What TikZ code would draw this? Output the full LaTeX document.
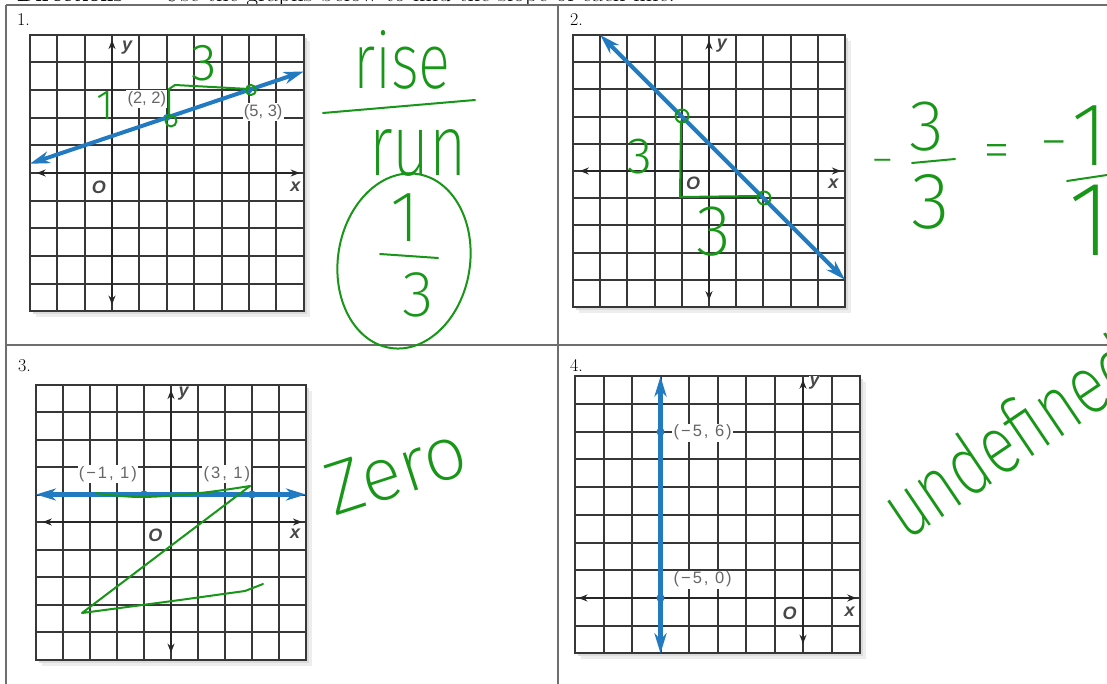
\documentclass[tikz,border=0pt]{standalone}
\usepackage{fontspec}
\usetikzlibrary{arrows.meta}
\newfontfamily\labfont[LetterSpace=12]{Liberation Sans}
\newfontfamily\labfonta{Liberation Sans}
\newfontfamily\axfont{Liberation Sans}
\newfontfamily\hand{Fira Sans ExtraLight}
\newfontfamily\handb{Fira Sans Light}
\newcommand{\fsz}[1]{\fontsize{#1}{#1}\selectfont}
\definecolor{penc}{RGB}{24,150,24}
\definecolor{lineblue}{RGB}{34,122,192}
\definecolor{gridc}{RGB}{55,55,55}
\definecolor{tablec}{RGB}{110,110,110}
\tikzset{
  gridl/.style={draw=gridc, line width=2pt},
  gridframe/.style={draw=gridc, line width=2pt},
  axisl/.style={draw=black!85, line width=2pt, {Stealth[length=9pt,width=7pt]}-{Stealth[length=9pt,width=7pt]}},
  bluel/.style={draw=lineblue, line width=#1, {Stealth[length=20pt,width=12pt,inset=6pt]}-{Stealth[length=20pt,width=12pt,inset=6pt]}},
  bluel/.default=4pt,
  bluedot/.style={fill=lineblue},
  axlab/.style={fill=white, inner sep=0.6pt, text=black!72, font=\axfont\bfseries\itshape\fsz{18}},
  plab/.style={fill=white, inner sep=1.2pt, text=black!60, font=\labfont\fsz{16.5}},
  plaba/.style={fill=white, inner sep=1.2pt, text=black!60, font=\labfonta\fsz{16.5}},
  numlab/.style={anchor=base west, inner sep=0pt, font=\fsz{18}},
  greenpen/.style={draw=penc, line width=2pt, line cap=round, line join=round},
  hw/.style={text=penc, inner sep=0pt, font=\hand},
  tablel/.style={draw=tablec, line width=1.5pt},
  shadowa/.style={fill=black!7},
  shadowb/.style={fill=black!14},
}
% graph paper snapped to whole pixels: left, top, cell w, cell h, columns, rows
\newcommand{\graphpaper}[6]{%
  \pgfmathsetmacro\gL{round(#1)}%
  \pgfmathsetmacro\gT{round(#2)}%
  \pgfmathsetmacro\gR{round(#1+#5*#3)}%
  \pgfmathsetmacro\gB{round(#2+#6*#4)}%
  \fill[shadowa] (\gL+6,\gT+6) rectangle (\gR+6,\gB+6);
  \fill[shadowb] (\gL+3,\gT+3) rectangle (\gR+3,\gB+3);
  \fill[white] (\gL,\gT) rectangle (\gR,\gB);
  \foreach \i in {0,...,#5} {\pgfmathsetmacro\gx{round(#1+\i*#3)}\draw[gridl] (\gx,\gT) -- (\gx,\gB);}
  \foreach \j in {0,...,#6} {\pgfmathsetmacro\gy{round(#2+\j*#4)}\draw[gridl] (\gL,\gy) -- (\gR,\gy);}
  \draw[gridframe] (\gL,\gT) rectangle (\gR,\gB);
}
\begin{document}
\begin{tikzpicture}[x=1pt,y=-1pt]
\useasboundingbox (0,0) rectangle (1107,684);
\clip (0,0) rectangle (1107,684);
\fill[white] (0,0) rectangle (1107,684);

% header text (mostly cut off at the top edge)
\node[anchor=base west, inner sep=0pt, font=\fsz{21}\bfseries] (dir) at (17,1.5) {Directions};
\node[anchor=base west, inner sep=0pt, font=\fsz{25}] (instr) at (163,1.5) {Use the graphs below to find the slope of each line.};

% table
\draw[tablel] (6,5) -- (1110,5);
\draw[tablel] (6,5) -- (6,690);
\draw[tablel] (558,5) -- (558,690);
\draw[tablel] (6,345) -- (1110,345);

\node[numlab] (n1) at (17,26) {1.};
\node[numlab] (n2) at (570,26) {2.};
\node[numlab] (n3) at (18,371) {3.};
\node[numlab] (n4) at (570,371) {4.};

% ---------- graph 1 ----------
\graphpaper{29.8}{34.5}{27.4}{27.7}{10}{10}
\begin{scope}[shift={(112,173)}, x=27.4pt, y=27.7pt]
  \draw[axisl] (-2.75,0) -- (6.85,0);
  \draw[axisl] (0,-4.75) -- (0,4.8);
  \node[axlab] (g1y) at (0.55,4.54) {y};
  \node[axlab] (g1x) at (6.69,-0.48) {x};
  \node[axlab] (g1o) at (-0.48,-0.52) {O};
  \node[plaba] (g1a) at (1.27,2.66) {(2, 2)};
  \node[plaba] (g1b) at (5.52,2.21) {(5, 3)};
  \coordinate (g1s) at (-3,1/3);
  \coordinate (g1e) at (7,11/3);
  \draw[bluel] (g1s) -- (g1e);
  \fill[bluedot] (2,2) circle (3.5pt);
  \fill[bluedot] (5,3) circle (3.5pt);
\end{scope}

% ---------- graph 2 ----------
\graphpaper{573}{35}{27.2}{27.2}{10}{10}
\begin{scope}[shift={(709,171)}, x=27.2pt, y=27.2pt]
  \draw[axisl] (-4.75,0) -- (4.85,0);
  \draw[axisl] (0,-4.75) -- (0,4.8);
  \node[axlab] (g2y) at (0.47,4.62) {y};
  \node[axlab] (g2x) at (4.57,-0.46) {x};
  \node[axlab] (g2o) at (-0.58,-0.46) {O};
  \coordinate (g2s) at (-4,5);
  \coordinate (g2e) at (5,-4);
  \draw[bluel] (g2s) -- (g2e);
\end{scope}

% ---------- graph 3 ----------
\graphpaper{36}{384.5}{27}{27.5}{10}{10}
\begin{scope}[shift={(171,522)}, x=27pt, y=27.5pt]
  \draw[axisl] (-4.75,0) -- (4.85,0);
  \draw[axisl] (0,-4.75) -- (0,4.8);
  \node[axlab] (g3y) at (0.47,4.67) {y};
  \node[axlab] (g3x) at (4.6,-0.42) {x};
  \node[axlab] (g3o) at (-0.58,-0.48) {O};
  \node[plab] (g3a) at (-2.34,1.75) {(−1, 1)};
  \node[plab] (g3b) at (2.07,1.75) {(3, 1)};
  \coordinate (g3s) at (-5,1);
  \coordinate (g3e) at (5,1);
  \draw[bluel=5pt] (g3s) -- (g3e);
  \fill[bluedot] (-1,1) circle (4pt);
  \fill[bluedot] (3,1) circle (4pt);
\end{scope}

% ---------- graph 4 ----------
\graphpaper{575}{376.4}{28.5}{27.7}{10}{10}
\begin{scope}[shift={(803,598)}, x=28.5pt, y=27.7pt]
  \draw[axisl] (-7.88,0) -- (1.87,0);
  \draw[axisl] (0,-1.65) -- (0,7.88);
  \node[axlab] (g4y) at (0.41,7.76) {y};
  \node[axlab] (g4x) at (1.64,-0.48) {x};
  \node[axlab] (g4o) at (-0.47,-0.54) {O};
  \node[plab] (g4a) at (-3.52,5.97) {(−5, 6)};
  \node[plab] (g4b) at (-3.52,0.66) {(−5, 0)};
  \coordinate (g4s) at (-5,8);
  \coordinate (g4e) at (-5,-2);
  \draw[bluel=5pt] (g4s) -- (g4e);
  \fill[bluedot] (-5,6) circle (4pt);
  \fill[bluedot] (-5,0) circle (4pt);
\end{scope}

% ---------- green handwriting ----------
% graph 1
\draw[greenpen] (171,121) circle (5.5pt);
\draw[greenpen] (251,90) circle (5pt);
\draw[greenpen] (169,117) -- (169,89) -- (175,85) -- (249,89);
\node[hw, font=\handb\fsz{52}] (h3a) at (204,63) {3};
\node[hw, font=\handb\fsz{42}] (h1a) at (105,106) {1};
\node[hw, font=\hand\fsz{60}, anchor=base, yscale=1.3] (rise) at (402,89) {rise};
\draw[greenpen] (323,113) -- (475,100);
\node[hw, font=\hand\fsz{64}, anchor=base, yscale=1.35] (run) at (418,176) {run};
\draw[greenpen, rotate around={-9:(404,261)}] (404,261) ellipse [x radius=66pt, y radius=88pt];
\node[hw, font=\hand\fsz{72}] (e1) at (405,218) {1};
\draw[greenpen] (380,254) -- (438,258);
\node[hw, font=\hand\fsz{65}] (e3) at (418,295) {3};

% graph 2
\draw[greenpen] (682,116) circle (6.5pt);
\draw[greenpen] (764,198) circle (6.5pt);
\draw[greenpen] (681,121) -- (680,197) -- (758,196);
\node[hw, font=\handb\fsz{51}] (h3b) at (640,157) {3};
\node[hw, font=\hand\fsz{72}] (h3c) at (714,232) {3};
\node[hw, font=\hand\fsz{46}] (m1) at (883,167) {−};
\node[hw, font=\hand\fsz{72}] (f3a) at (927,127) {3};
\draw[greenpen] (912,163) -- (955,159);
\node[hw, font=\hand\fsz{80}] (f3b) at (931,202) {3};
\node[hw, font=\hand\fsz{55}] (eq) at (997,157) {=};
\node[hw, font=\hand\fsz{56}] (m2) at (1054,151) {−};
\node[hw, font=\hand\fsz{90}] (f1a) at (1090,136) {1};
\draw[greenpen] (1067,181) -- (1107,175);
\node[hw, font=\hand\fsz{106}] (f1b) at (1090,220) {1};

% graph 3
\draw[greenpen] plot[smooth, tension=0.6] coordinates {(96,493) (140,497) (200,493) (250,486)};
\draw[greenpen] (250,486) -- (82,613) -- (180,600) -- (245,591) -- (263,584);
\node[hw, font=\hand\fsz{75}, anchor=base west, rotate=18] (zero) at (334,517) {Zero};

% graph 4
\node[hw, font=\hand\fsz{64}, anchor=base west, rotate=34, yscale=1.3] (undef) at (906,542) {undefined};
\end{tikzpicture}
\end{document}
